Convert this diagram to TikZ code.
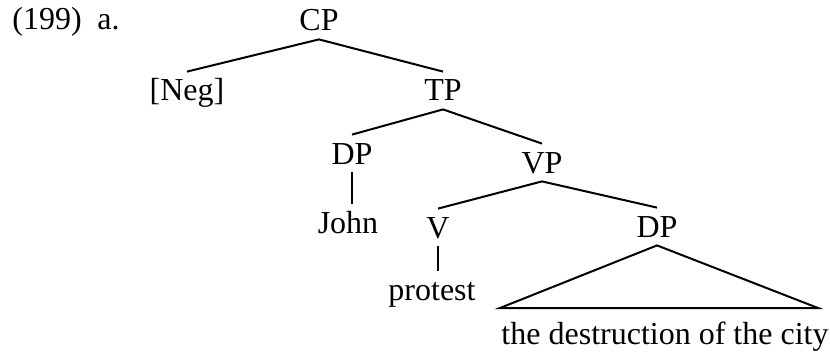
\documentclass[tikz,border=0pt]{standalone}
\usepackage{fontspec}
\setmainfont{Liberation Serif}

\begin{document}
\begin{tikzpicture}[
    x=0.5pt, y=-0.5pt,
    font=\fontsize{16}{18}\selectfont,
    cat/.style={anchor=base, inner sep=1.5pt, text height=13pt, text depth=2.5pt},
    label/.style={anchor=base west, inner sep=0pt},
    branch/.style={line width=1pt}
]
    \useasboundingbox (0,0) rectangle (830,358);

    % Example number
    \node[label] (num) at (12,30) {(199)};
    \node[label] (sub) at (97,30) {a.};

    % Categories
    \node[cat] (cp)      at (319,31)  {CP};
    \node[cat] (neg)     at (187,101) {[Neg]};
    \node[cat] (tp)      at (443,101) {TP};
    \node[cat] (dpsubj)  at (352,164) {DP};
    \node[cat] (vp)      at (542,173) {VP};
    \node[cat] (john)    at (348,233) {John};
    \node[cat] (v)       at (438,238) {V};
    \node[cat] (dpobj)   at (657,237) {DP};
    \node[cat] (protest) at (432,300) {protest};
    \node[cat] (phrase)  at (665,344) {the destruction of the city};

    % Branches
    \draw[branch] (cp.south) -- (neg.north);
    \draw[branch] (cp.south) -- (tp.north);
    \draw[branch] (tp.south) -- (dpsubj.north);
    \draw[branch] (tp.south) -- (vp.north);
    \draw[branch] (dpsubj.south) -- (dpsubj.south |- john.north);
    \draw[branch] (vp.south) -- (v.north);
    \draw[branch] (vp.south) -- (dpobj.north);
    \draw[branch] (v.south) -- (v.south |- protest.north);

    % Triangle
    \coordinate (tril) at (500,308);
    \coordinate (trir) at (818,308);
    \draw[branch] (tril) -- (dpobj.south) -- (trir) -- cycle;
\end{tikzpicture}
\end{document}
